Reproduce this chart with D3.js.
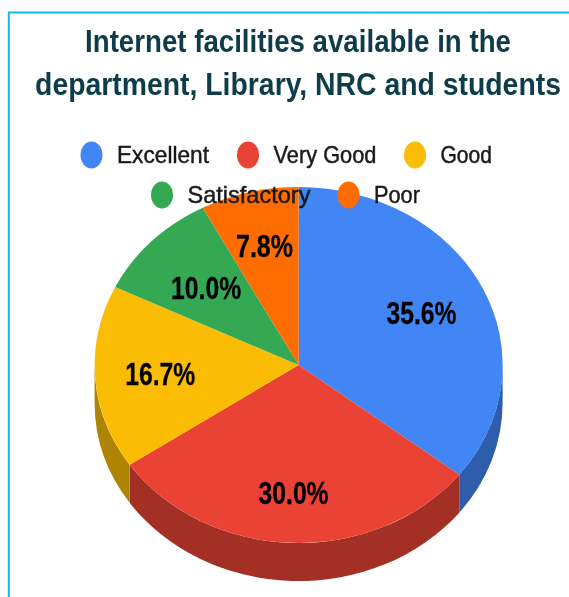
<!DOCTYPE html>
<html><head><meta charset="utf-8">
<script src="https://cdn.jsdelivr.net/npm/d3@7"></script>
<style>html,body{margin:0;padding:0;background:#fff}svg{display:block}text{font-family:"Liberation Sans",Arial,sans-serif}</style>
</head><body><svg id="c" width="569" height="597"></svg>
<script>
const categories=["Excellent","Very Good","Good","Satisfactory","Poor"];
const values=[35.6,30.0,16.7,10.0,7.8];
const colors=["#4285f4","#ea4335","#fbbc04","#34a853","#ff6d01"];
const titleLines=["Internet facilities available in the","department, Library, NRC and students"];

const W=569,H=597,cx=298.6,cy=365,rx=204,ry=178,depth=38;
const svg=d3.select("#c");
const defs=svg.append("defs");
defs.append("filter").attr("id","soft").attr("x","-5%").attr("y","-20%").attr("width","110%").attr("height","140%")
  .append("feGaussianBlur").attr("stdDeviation",0.55);

// frame
svg.append("path").attr("d",`M${W},12.5H8.8V${H}`).attr("fill","none").attr("stroke","#12b9f2").attr("stroke-width",2);

const pie=d3.pie().sort(null).value(d=>d)(values);
const color=d3.scaleOrdinal(categories,colors);
const px=a=>cx+rx*Math.sin(a), py=a=>cy-ry*Math.cos(a);

// side wall: only the front half of the disc is visible
const wall=svg.append("g");
pie.forEach((s,i)=>{
  const a0=Math.max(s.startAngle,Math.PI/2), a1=Math.min(s.endAngle,Math.PI*1.5);
  if(a1<=a0)return;
  const d=`M${px(a0)},${py(a0)}A${rx},${ry} 0 0 1 ${px(a1)},${py(a1)}L${px(a1)},${py(a1)+depth}A${rx},${ry} 0 0 0 ${px(a0)},${py(a0)+depth}Z`;
  wall.append("path").attr("d",d).attr("fill",d3.rgb(colors[i]).darker(1.0).toString());
});

// top face
const arc=d3.arc().innerRadius(0).outerRadius(1);
const face=svg.append("g").attr("transform",`translate(${cx},${cy}) scale(${rx},${ry})`);
face.selectAll("path").data(pie).join("path").attr("d",arc).attr("fill",(d,i)=>color(categories[i]));

// horizontally squeezed text: natural glyphs scaled to the width seen in the reference
function squeezed(g,str,x,y,size,weight,fill,width,anchor,heavy){
  const t=g.append("text").attr("font-size",size).attr("font-weight",weight).attr("fill",fill)
    .attr("text-anchor",anchor||"start").text(str);
  if(heavy)t.attr("stroke",fill).attr("stroke-width",heavy);
  const natural=t.node().getComputedTextLength();
  t.attr("transform",`translate(${x},${y}) scale(${width/natural},1)`);
  return t;
}
const textLayer=svg.append("g").attr("filter","url(#soft)");

// title
const titleWidths=[426,526];
titleLines.forEach((l,i)=>squeezed(textLayer,l,298,[52,95][i],32,"bold","#0f3c48",titleWidths[i],"middle"));

// legend
const legendX=[91.5,248,415,162,348.5], legendY=[155,155,155,195,195], legendW=[92,103,51.5,123,46];
categories.forEach((c,i)=>{
  svg.append("ellipse").attr("cx",legendX[i]).attr("cy",legendY[i]).attr("rx",11).attr("ry",13.5).attr("fill",color(c));
  squeezed(textLayer,c,legendX[i]+25.5,legendY[i]+8,23,"normal","#1a1a1a",legendW[i],"start",0.45);
});

// value labels
const labelR=[.67,.715,.68,.63,.69];
const labelW=[70,70,70,70,57];
const fmt=d3.format(".1f");
pie.forEach((s,i)=>{
  const [lx,ly]=d3.arc().innerRadius(labelR[i]).outerRadius(labelR[i]).centroid(s);
  squeezed(textLayer,fmt(values[i])+"%",cx+lx*rx,cy+ly*ry+11.5,32,"bold","#000",labelW[i],"middle",0.3);
});
</script></body></html>
